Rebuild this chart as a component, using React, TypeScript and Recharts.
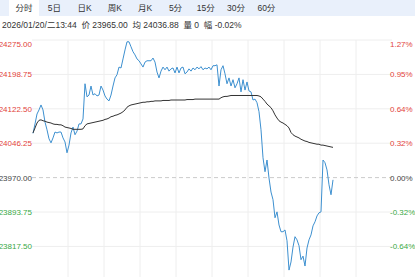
import { LineChart, Line, XAxis, YAxis, CartesianGrid, ReferenceLine } from "recharts";

// 分时 chart, prev close 23970, trading day split into 180 slots
const PREV_CLOSE = 23970;
const TOTAL_SLOTS = 180;

const tabs = ["分时", "5日", "日K", "周K", "月K", "5分", "15分", "30分", "60分"];
const quoteLine = "2026/01/20/二13:44  价 23965.00  均 24036.88  量 0  幅 -0.02%";

const priceTicks = [23817.5, 23893.75, 23970, 24046.25, 24122.5, 24198.75, 24275];
const gridSlots = [18, 36, 54, 72, 90, 108, 126, 144, 162];

const prices = [
  24068, 24089, 24111, 24120, 24131, 24120, 24093, 24076, 24056, 24047,
  24058, 24071, 24069, 24071, 24071, 24058, 24049, 24025, 24042, 24069,
  24082, 24065, 24073, 24089, 24089, 24100, 24178, 24149, 24153, 24173,
  24153, 24156, 24151, 24153, 24173, 24164, 24151, 24144, 24140, 24153,
  24173, 24191, 24198, 24215, 24213, 24233, 24253, 24271, 24271, 24260,
  24249, 24242, 24233, 24229, 24222, 24215, 24226, 24229, 24229, 24229,
  24235, 24226, 24204, 24191, 24206, 24215, 24209, 24215, 24206, 24211,
  24213, 24202, 24215, 24202, 24213, 24215, 24200, 24204, 24211, 24206,
  24213, 24209, 24215, 24211, 24216, 24209, 24213, 24211, 24215, 24209,
  24218, 24218, 24220, 24173, 24209, 24218, 24200, 24178, 24191, 24173,
  24187, 24169, 24178, 24191, 24160, 24187, 24164, 24182, 24162, 24160,
  24142, 24144, 24136, 24116, 24076, 24014, 23983, 24009, 23969, 23938,
  23921, 23881, 23894, 23865, 23850, 23850, 23854, 23830, 23765, 23783,
  23816, 23839, 23832, 23819, 23788, 23796, 23774, 23814, 23832, 23843,
  23863, 23872, 23885, 23892, 23894, 24009, 24003, 23987, 23954, 23932,
  23965,
];

const avgPrices = [
  24069, 24080, 24091, 24097, 24098, 24096, 24095, 24093, 24092, 24091,
  24089, 24088, 24088, 24087, 24087, 24085, 24082, 24081, 24080, 24079,
  24077, 24077, 24077, 24077, 24077, 24078, 24085, 24089, 24090, 24091,
  24092, 24093, 24094, 24095, 24096, 24097, 24099, 24100, 24102, 24105,
  24106, 24108, 24109, 24111, 24113, 24116, 24120, 24126, 24129, 24131,
  24132, 24133, 24134, 24135, 24136, 24137, 24137, 24138, 24138, 24139,
  24139, 24140, 24140, 24140, 24140, 24141, 24141, 24141, 24141, 24142,
  24142, 24142, 24142, 24142, 24142, 24142, 24142, 24143, 24143, 24143,
  24143, 24144, 24144, 24144, 24144, 24144, 24144, 24144, 24144, 24144,
  24144, 24144, 24144, 24144, 24147, 24149, 24150, 24150, 24151, 24152,
  24152, 24152, 24152, 24152, 24152, 24152, 24152, 24152, 24152, 24152,
  24152, 24152, 24152, 24151, 24149, 24144, 24139, 24133, 24129, 24125,
  24118, 24109, 24102, 24096, 24093, 24091, 24088, 24085, 24080, 24070,
  24065, 24062, 24060, 24058, 24055, 24053, 24051, 24050, 24048, 24047,
  24046, 24045, 24044, 24044, 24042, 24042, 24041, 24040, 24039, 24038,
  24037,
];

const RED = "#e2433b";
const GREEN = "#39a845";
const GRAY = "#444";
const FONT = "Arial, 'Liberation Sans', 'Noto Sans CJK SC', sans-serif";

const data = prices.map((p, i) => ({ t: i + 0.5, price: p, avg: avgPrices[i] }));

const yMax = priceTicks[priceTicks.length - 1];
const yMin = PREV_CLOSE - (yMax - PREV_CLOSE);

const tickColor = (v: number) => (v > PREV_CLOSE ? RED : v < PREV_CLOSE ? GREEN : GRAY);

function LeftTick(props: any) {
  const { x, y, payload } = props;
  const v = payload.value as number;
  return (
    <text x={x} y={y + (v === yMax ? 6.5 : 3)} textAnchor="end" fill={tickColor(v)} fontSize={8} fontFamily={FONT}>
      {v.toFixed(2)}
    </text>
  );
}

function RightTick(props: any) {
  const { x, y, payload } = props;
  const v = payload.value as number;
  const pct = ((v - PREV_CLOSE) / PREV_CLOSE) * 100;
  return (
    <text x={x - 2} y={y + (v === yMax ? 6.5 : 3)} textAnchor="start" fill={tickColor(v)} fontSize={8} fontFamily={FONT}>
      {pct.toFixed(2) + "%"}
    </text>
  );
}

export default function App() {
  return (
    <div
      style={{
        position: "fixed",
        left: 0,
        top: 0,
        width: 415,
        height: 277,
        overflow: "hidden",
        background: "#fff",
        fontFamily: FONT,
      }}
    >
      <div style={{ position: "absolute", left: 0, top: 0, width: 415, height: 16, background: "#e9f0fb" }}>
        {tabs.map((t, i) => (
          <div
            key={t}
            style={{
              position: "absolute",
              left: 9 + i * 30.3,
              top: 0,
              width: 30,
              height: 16,
              lineHeight: "16px",
              textAlign: "center",
              fontSize: 8.5,
              color: "#333",
              background: i === 0 ? "#fff" : "transparent",
            }}
          >
            {t}
          </div>
        ))}
      </div>
      <div
        style={{
          position: "absolute",
          left: 2,
          top: 19,
          fontSize: 8.5,
          lineHeight: "12px",
          color: "#333",
          whiteSpace: "pre",
        }}
      >
        {quoteLine}
      </div>
      <div style={{ position: "absolute", left: 0, top: 0 }}>
        <LineChart width={415} height={320} data={data} margin={{ top: 40, right: 0, bottom: 4.8, left: 0 }}>
          <CartesianGrid
            stroke="#eeeeee"
            strokeWidth={1}
            horizontalValues={priceTicks.filter((v) => v !== PREV_CLOSE)}
            verticalValues={gridSlots}
          />
          <XAxis type="number" dataKey="t" domain={[0, TOTAL_SLOTS]} hide />
          <YAxis
            type="number"
            domain={[yMin, yMax]}
            ticks={priceTicks}
            interval={0}
            width={32}
            axisLine={false}
            tickLine={false}
            tickSize={0}
            tickMargin={0}
            tick={LeftTick}
          />
          <YAxis
            yAxisId="pct"
            orientation="right"
            type="number"
            domain={[yMin, yMax]}
            ticks={priceTicks}
            interval={0}
            width={23}
            axisLine={false}
            tickLine={false}
            tickSize={0}
            tickMargin={0}
            tick={RightTick}
          />
          <ReferenceLine y={PREV_CLOSE} stroke="#cccccc" strokeDasharray="4 3" />
          <Line
            type="linear"
            dataKey="price"
            stroke="#3d90d0"
            strokeWidth={1}
            dot={false}
            isAnimationActive={false}
          />
          <Line
            yAxisId="pct"
            type="linear"
            dataKey="avg"
            stroke="#333333"
            strokeWidth={1}
            dot={false}
            isAnimationActive={false}
          />
        </LineChart>
      </div>
    </div>
  );
}
